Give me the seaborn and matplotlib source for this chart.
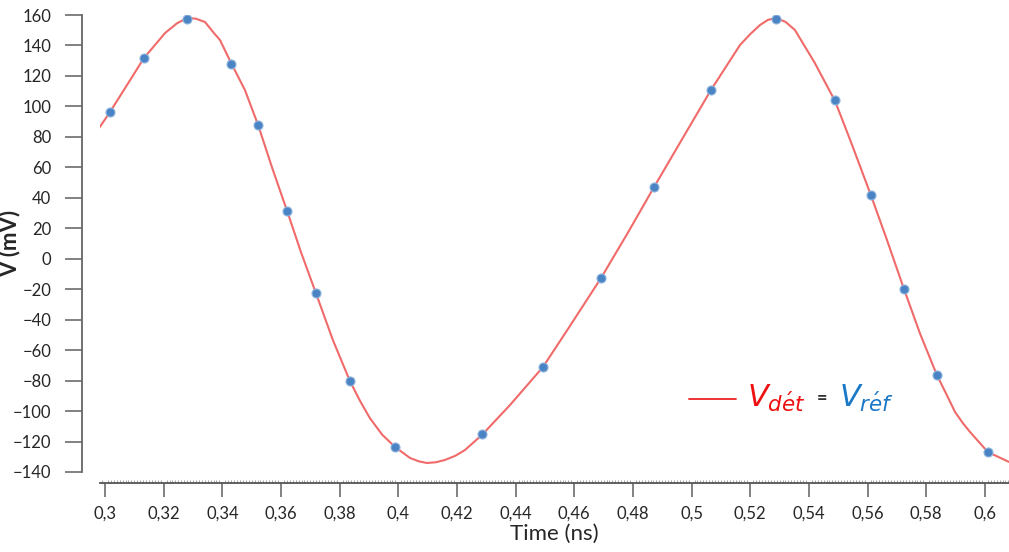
import numpy as np
import pandas as pd
import matplotlib
matplotlib.use("Agg")
import matplotlib.pyplot as plt
import seaborn as sns
from matplotlib.ticker import FuncFormatter, MultipleLocator
from matplotlib.offsetbox import AnchoredOffsetbox, HPacker, TextArea, DrawingArea
from matplotlib.lines import Line2D

# Red curve (V_det)
curve_t = [0.2980, 0.3017, 0.3075, 0.3133, 0.3205, 0.3245, 0.3280, 0.3310, 0.3341,
           0.3372, 0.3392, 0.3430, 0.3477, 0.3522, 0.3569, 0.3621, 0.3668, 0.3719,
           0.3777, 0.3835, 0.3870, 0.3903, 0.3945, 0.3989, 0.4040, 0.4070, 0.4098,
           0.4128, 0.4159, 0.4195, 0.4227, 0.4285, 0.4381, 0.4493, 0.4585, 0.4691,
           0.4780, 0.4872, 0.4970, 0.5066, 0.5165, 0.5200, 0.5233, 0.5260, 0.5288,
           0.5320, 0.5352, 0.5420, 0.5489, 0.5547, 0.5611, 0.5666, 0.5724, 0.5778,
           0.5836, 0.5870, 0.5898, 0.5925, 0.5949, 0.6010, 0.6082]
curve_v = [85.8, 96.3, 114.0, 131.8, 148.2, 154.5, 158.0, 157.6, 155.4,
           148.0, 143.6, 128.5, 110.8, 87.8, 60.2, 31.3, 4.4, -22.5,
           -53.4, -80.3, -93.5, -104.6, -115.5, -123.6, -130.8, -133.0, -134.1,
           -133.6, -132.1, -129.3, -125.6, -115.7, -96.0, -71.1, -44.2, -12.7,
           16.2, 47.1, 79.3, 110.8, 140.3, 147.5, 153.4, 156.8, 158.0,
           155.5, 150.2, 128.5, 103.5, 74.7, 41.8, 12.3, -19.9, -48.8,
           -76.3, -89.5, -100.6, -108.0, -113.7, -126.9, -133.4]

# Blue points (V_ref)
pts_t = [0.3017, 0.3133, 0.3280, 0.3430, 0.3522, 0.3621, 0.3719, 0.3835, 0.3989, 0.4285,
         0.4493, 0.4691, 0.4872, 0.5066, 0.5288, 0.5489, 0.5612, 0.5724, 0.5837, 0.6011]
pts_v = [96.3, 131.8, 157.4, 127.8, 87.8, 31.3, -22.5, -80.3, -123.6, -115.1,
         -71.1, -12.7, 47.1, 110.8, 157.4, 104.2, 41.8, -19.9, -76.3, -126.9]

y_ticks = list(range(-140, 161, 20))
x_ticks = [0.30, 0.32, 0.34, 0.36, 0.38, 0.40, 0.42, 0.44, 0.46, 0.48, 0.50, 0.52, 0.54, 0.56, 0.58, 0.60]

curve = pd.DataFrame({"t": curve_t, "v": curve_v})
points = pd.DataFrame({"t": pts_t, "v": pts_v})

sns.set_style("white")
plt.rcParams["font.family"] = ["Lato", "DejaVu Sans"]

fig = plt.figure(figsize=(10.09, 5.52), dpi=100)
ax = fig.add_axes([100 / 1009, 1 - 472 / 552, 909 / 1009, 457 / 552])

sns.lineplot(data=curve, x="t", y="v", sort=False, color="#f06a6a", lw=1.5, ax=ax)
sns.scatterplot(data=points, x="t", y="v", color="#4a84c4", edgecolor="#8fb4dd",
                linewidth=0.8, s=42, zorder=3, ax=ax)

ax.set_xlim(0.2983, 0.6082)
ax.set_ylim(-140, 160)

# spines
for s in ["top", "right"]:
    ax.spines[s].set_visible(False)
ax.spines["left"].set_position(("outward", 13))
ax.spines["bottom"].set_position(("outward", 8))
ax.spines["left"].set_color("#666666")
ax.spines["bottom"].set_color("#555555")
ax.spines["left"].set_linewidth(1.3)
ax.spines["bottom"].set_linewidth(1.3)

ax.set_yticks(y_ticks)
ax.set_xticks(x_ticks)
ax.xaxis.set_minor_locator(MultipleLocator(0.001))
fmt = FuncFormatter(lambda v, p: f"{round(v, 2):g}".replace(".", ","))
ax.xaxis.set_major_formatter(fmt)
ax.tick_params(axis="y", which="major", direction="out", length=12, width=1.3,
               color="#777777", labelsize=12, pad=10, left=True)
ax.tick_params(axis="x", which="major", direction="out", length=10, width=1.3,
               color="#777777", labelsize=12, pad=6, bottom=True)
ax.tick_params(axis="x", which="minor", direction="in", length=2, width=0.6,
               color="#999999", bottom=True)

ax.set_xlabel("Time (ns)", fontsize=16, labelpad=2)
ax.set_ylabel("V (mV)", fontsize=16, fontweight="bold")
ax.yaxis.set_label_coords(-0.088, 0.5)

# legend: red line + V_det = V_ref
da = DrawingArea(34, 10, 0, 0)
da.add_artist(Line2D([0, 34], [5, 5], color="#ee2222", lw=1.3))
t1 = TextArea(r"$V_{d\acute{e}t}$", textprops=dict(color="#ee1111", fontsize=22))
t2 = TextArea("=", textprops=dict(color="#333333", fontsize=13, fontweight="bold"))
t3 = TextArea(r"$V_{r\acute{e}f}$", textprops=dict(color="#1a78c8", fontsize=22))
box = HPacker(children=[da, t1, t2, t3], align="center", pad=0, sep=8)
anchored = AnchoredOffsetbox(loc="center left", child=box, frameon=False,
                             bbox_to_anchor=(0.642, 0.16), bbox_transform=ax.transAxes,
                             borderpad=0)
ax.add_artist(anchored)

fig.savefig("out.png", dpi=100)
